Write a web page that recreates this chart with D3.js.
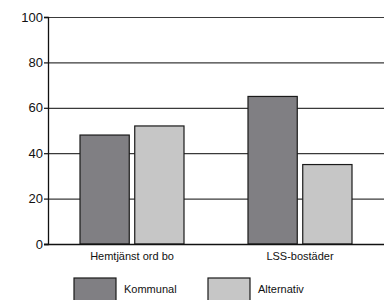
<!DOCTYPE html>
<html>
<head>
<meta charset="utf-8">
<script src="https://cdn.jsdelivr.net/npm/d3@7"></script>
<style>
  body { margin: 0; background: #fff; }
  text { font-family: "Liberation Sans", Arial, sans-serif; }
</style>
</head>
<body>
<div id="chart"></div>
<script>
// Data
const categories = ["Hemtjänst ord bo", "LSS-bostäder"];
const seriesNames = ["Kommunal", "Alternativ"];
const kommunal = [48, 65];
const alternativ = [52, 35];
const yTicks = [0, 20, 40, 60, 80, 100];

const colors = { Kommunal: "#807f83", Alternativ: "#c6c6c6" };

const dataset = categories.map((c, i) => ({
    category: c,
    values: [
        { key: "Kommunal", value: kommunal[i] },
        { key: "Alternativ", value: alternativ[i] }
    ]
}));

// Dimensions
let dimensions = {
    width: 387,
    height: 300,
    margin: { top: 17, bottom: 56, left: 48, right: 3 }
};
dimensions.ctnrWidth = dimensions.width - dimensions.margin.left - dimensions.margin.right;
dimensions.ctnrHeight = dimensions.height - dimensions.margin.top - dimensions.margin.bottom;

const svg = d3.select("#chart")
    .append("svg")
    .attr("width", dimensions.width)
    .attr("height", dimensions.height);

const ctnr = svg.append("g")
    .attr("transform", `translate(${dimensions.margin.left}, ${dimensions.margin.top})`);

const xScale = d3.scaleBand()
    .domain(categories)
    .range([0, dimensions.ctnrWidth]);

const innerScale = d3.scaleBand()
    .domain(seriesNames)
    .range([0, 104])
    .paddingInner(0.1);

const yScale = d3.scaleLinear()
    .domain([0, 100])
    .range([dimensions.ctnrHeight, 0]);

// Gridlines
ctnr.append("g")
    .selectAll("line")
    .data(yTicks.filter(d => d > 0))
    .join("line")
    .attr("x1", 0)
    .attr("x2", dimensions.ctnrWidth)
    .attr("y1", d => yScale(d) + 0.5)
    .attr("y2", d => yScale(d) + 0.5)
    .attr("stroke", "#3a3a3a")
    .attr("stroke-width", 1.2);

// Bars
const groups = ctnr.selectAll(".group")
    .data(dataset)
    .join("g")
    .attr("class", "group")
    .attr("transform", d => `translate(${xScale(d.category) + xScale.bandwidth() / 2 - 52}, 0)`);

groups.selectAll("rect")
    .data(d => d.values)
    .join("rect")
    .attr("x", d => innerScale(d.key))
    .attr("y", d => yScale(d.value))
    .attr("width", innerScale.bandwidth())
    .attr("height", d => dimensions.ctnrHeight - yScale(d.value))
    .attr("fill", d => colors[d.key])
    .attr("stroke", "#1a1a1a")
    .attr("stroke-width", 1.2);

// Axes
const yAxis = d3.axisLeft(yScale)
    .tickValues(yTicks)
    .tickSize(4)
    .tickPadding(1);

const yAxisGroup = ctnr.append("g").call(yAxis);
yAxisGroup.select(".domain").attr("stroke", "#111").attr("stroke-width", 1.3);
yAxisGroup.selectAll(".tick line").attr("stroke", "#111").attr("stroke-width", 1.2);
yAxisGroup.selectAll("text")
    .attr("font-size", 13)
    .attr("fill", "#111")
    .style("font-family", "'Liberation Sans', Arial, sans-serif");

// Baseline
ctnr.append("line")
    .attr("x1", -4)
    .attr("x2", dimensions.ctnrWidth)
    .attr("y1", yScale(0) + 0.5)
    .attr("y2", yScale(0) + 0.5)
    .attr("stroke", "#111")
    .attr("stroke-width", 1.3);

const xAxis = d3.axisBottom(xScale).tickSize(0).tickPadding(8);
const xAxisGroup = ctnr.append("g")
    .attr("transform", `translate(0, ${dimensions.ctnrHeight})`)
    .call(xAxis);
xAxisGroup.select(".domain").remove();
xAxisGroup.selectAll("text")
    .attr("font-size", 11)
    .attr("fill", "#111")
    .style("font-family", "'Liberation Sans', Arial, sans-serif");

// Legend
const legend = svg.append("g")
    .attr("transform", "translate(74, 278)");

const legendItems = legend.selectAll("g")
    .data(seriesNames)
    .join("g")
    .attr("transform", (d, i) => `translate(${i * 134}, 0)`);

legendItems.append("rect")
    .attr("width", 42)
    .attr("height", 24)
    .attr("fill", d => colors[d])
    .attr("stroke", "#1a1a1a")
    .attr("stroke-width", 1.2);

legendItems.append("text")
    .attr("x", 50)
    .attr("y", 15)
    .attr("font-size", 11)
    .attr("fill", "#111")
    .text(d => d);
</script>
</body>
</html>
